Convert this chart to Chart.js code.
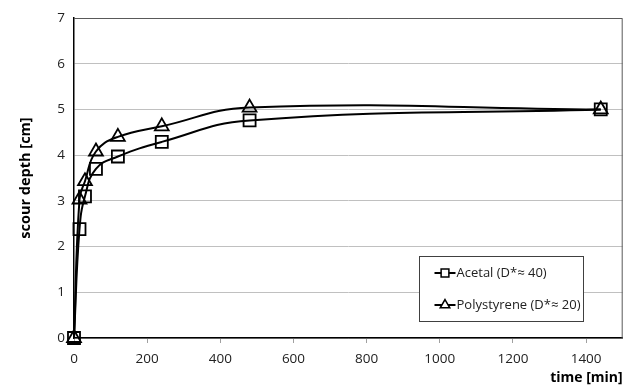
<!DOCTYPE html>
<html>
<head>
<meta charset="utf-8">
<script src="https://cdn.jsdelivr.net/npm/chart.js@4.4.0/dist/chart.umd.min.js"></script>
<style>
  body { margin: 0; background: #fff; }
  #wrap { width: 633px; height: 387px; }
</style>
</head>
<body>
<div id="wrap"><canvas id="scour"></canvas></div>
<script>
var times = [0, 15, 30, 60, 120, 240, 480, 1440];
var acetal = [0, 2.38, 3.1, 3.7, 3.97, 4.29, 4.76, 5.0];
var polystyrene = [0, 3.03, 3.43, 4.08, 4.4, 4.63, 5.04, 5.0];
var seriesNames = ['Acetal (D*\u2248 40)', 'Polystyrene (D*\u2248 20)'];
var xTicks = [0, 200, 400, 600, 800, 1000, 1200, 1400];

var FONT = '"Open Sans", "DejaVu Sans", sans-serif';

var toPoints = function(ys) {
    return times.map(function(t, i) { return {x: t, y: ys[i]}; });
};

// frame around the plot area and the boxed legend
var framePlugin = {
    id: 'frame',
    beforeDatasetsDraw: function(chart) {
        var a = chart.chartArea, ctx = chart.ctx;
        ctx.save();
        ctx.strokeStyle = '#595959';
        ctx.lineWidth = 1;
        ctx.beginPath();
        ctx.moveTo(a.left, a.top + 0.5);
        ctx.lineTo(a.right - 0.5, a.top + 0.5);
        ctx.lineTo(a.right - 0.5, a.bottom);
        ctx.stroke();
        ctx.restore();
    },
    afterDraw: function(chart) {
        var ctx = chart.ctx;
        var bx = 419.5, by = 256.5, bw = 164, bh = 65;
        ctx.save();
        ctx.fillStyle = '#fff';
        ctx.fillRect(bx, by, bw, bh);
        ctx.strokeStyle = '#404040';
        ctx.lineWidth = 1;
        ctx.strokeRect(bx, by, bw, bh);
        ctx.font = '13px ' + FONT;
        ctx.textBaseline = 'middle';
        chart.data.datasets.forEach(function(ds, i) {
            var cy = 273 + i * 32;
            var x0 = bx + 15, x1 = bx + 36;
            ctx.strokeStyle = '#000';
            ctx.lineWidth = 2;
            ctx.beginPath();
            ctx.moveTo(x0, cy);
            ctx.lineTo(x1, cy);
            ctx.stroke();
            ctx.fillStyle = '#fff';
            ctx.lineWidth = 1.5;
            Chart.helpers.drawPoint(ctx, {
                pointStyle: ds.pointStyle,
                radius: 5.5,
                borderWidth: 1.5
            }, (x0 + x1) / 2, cy);
            ctx.fillStyle = '#222';
            ctx.fillText(ds.label, x1 + 1, cy);
        });
        ctx.restore();
    }
};

window.onload = function() {
    var ctx = document.getElementById('scour').getContext('2d');
    window.myChart = new Chart(ctx, {
        type: 'line',
        data: {
            datasets: [{
                label: seriesNames[0],
                data: toPoints(acetal),
                borderColor: '#000',
                borderWidth: 2,
                tension: 0.45,
                clip: false,
                pointStyle: 'rect',
                pointRadius: 8.5,
                pointBorderWidth: 1.8,
                pointBorderColor: '#000',
                pointBackgroundColor: 'rgba(255,255,255,0)'
            }, {
                label: seriesNames[1],
                data: toPoints(polystyrene),
                borderColor: '#000',
                borderWidth: 2,
                tension: 0.45,
                clip: false,
                pointStyle: 'triangle',
                pointRadius: 8,
                pointBorderWidth: 1.8,
                pointBorderColor: '#000',
                pointBackgroundColor: 'rgba(255,255,255,0)'
            }]
        },
        options: {
            responsive: true,
            maintainAspectRatio: false,
            animation: false,
            layout: { padding: { top: 18, right: 3, left: 0, bottom: 0 } },
            plugins: {
                legend: { display: false },
                tooltip: { enabled: false }
            },
            scales: {
                x: {
                    type: 'linear',
                    min: 0,
                    max: 1500,
                    afterFit: function(s) { s.height = 49; },
                    afterBuildTicks: function(s) {
                        s.ticks = xTicks.map(function(v) { return {value: v}; });
                    },
                    grid: {
                        drawOnChartArea: false,
                        drawTicks: true,
                        tickLength: 5,
                        color: '#a0a0a0'
                    },
                    border: { color: '#000', width: 1.5 },
                    ticks: {
                        color: '#222',
                        padding: 8,
                        maxRotation: 0,
                        font: { family: FONT, size: 13.5 },
                        callback: function(v) { return String(v); }
                    },
                    title: {
                        display: true,
                        text: 'time [min]',
                        align: 'end',
                        color: '#000',
                        padding: { top: 0, bottom: 1 },
                        font: { family: FONT, size: 14, weight: 'bold' }
                    }
                },
                y: {
                    min: 0,
                    max: 7,
                    afterFit: function(s) { s.width = 74; },
                    grid: {
                        color: '#c0c0c0',
                        lineWidth: 1,
                        drawTicks: false
                    },
                    border: { color: '#000', width: 1.5 },
                    ticks: {
                        stepSize: 1,
                        color: '#222',
                        padding: 9,
                        font: { family: FONT, size: 13.5 }
                    },
                    title: {
                        display: true,
                        text: 'scour depth [cm]',
                        color: '#000',
                        padding: { top: 17, bottom: 0 },
                        font: { family: FONT, size: 14.5, weight: 'bold' }
                    }
                }
            }
        },
        plugins: [framePlugin]
    });
};
</script>
</body>
</html>
